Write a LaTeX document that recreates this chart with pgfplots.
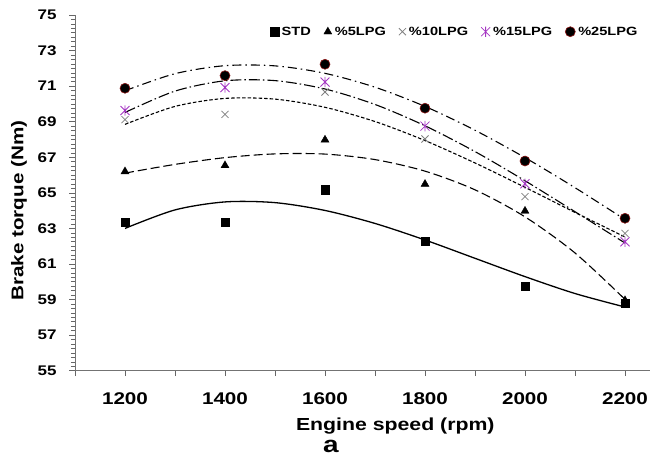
\documentclass[border=0pt]{standalone}
\usepackage{pgfplots}
\pgfplotsset{compat=1.18}
\usepackage{fontspec}
\setmainfont{Liberation Sans}[FakeStretch=1.22]
\definecolor{mypurple}{RGB}{165,55,195}
\definecolor{mydred}{RGB}{140,20,20}
\definecolor{mygray}{RGB}{128,128,128}
\pgfdeclareplotmark{xstar}{%
  \pgfpathmoveto{\pgfqpoint{-\pgfplotmarksize}{-\pgfplotmarksize}}%
  \pgfpathlineto{\pgfqpoint{\pgfplotmarksize}{\pgfplotmarksize}}%
  \pgfpathmoveto{\pgfqpoint{-\pgfplotmarksize}{\pgfplotmarksize}}%
  \pgfpathlineto{\pgfqpoint{\pgfplotmarksize}{-\pgfplotmarksize}}%
  \pgfpathmoveto{\pgfqpoint{0pt}{-1.15\pgfplotmarksize}}%
  \pgfpathlineto{\pgfqpoint{0pt}{1.15\pgfplotmarksize}}%
  \pgfusepathqstroke}
\begin{document}
\begin{tikzpicture}
\useasboundingbox (-75bp,-86.3bp) rectangle (575bp,370.7bp);
\begin{axis}[
  at={(0,0)}, anchor=south west,
  scale only axis, width=575bp, height=355.7bp,
  xmin=1100, xmax=2250, ymin=55, ymax=75,
  clip=false,
  axis x line=bottom, axis y line=left,
  axis line style={-, black!55, line width=0.8bp},
  xtick={1100,1200,...,2200},
  xticklabels={{},1200,{},1400,{},1600,{},1800,{},2000,{},2200},
  ytick={55,57,...,75}, minor y tick num=7,
  tick align=outside, major tick length=5.5bp, minor tick length=4bp,
  tick style={black!60, line width=0.6bp},
  /pgf/number format/assume math mode=true,
  /pgf/number format/1000 sep={},
  xticklabel style={font=\bfseries\fontsize{17}{17}\selectfont, anchor=base, yshift=-28bp},
  yticklabel style={font=\bfseries\fontsize{14}{14}\selectfont, anchor=east, inner sep=0pt, xshift=-12.8bp},
  xlabel={Engine speed (rpm)},
  xlabel style={font=\bfseries\fontsize{17.5}{17.5}\selectfont, at={(axis description cs:0.557,-0.1695)}, anchor=base},
  ylabel={Brake torque (Nm)},
  ylabel style={font=\bfseries\fontsize{17}{17}\selectfont, at={(axis description cs:-0.0974,0.45)}, rotate=0, anchor=center},
  legend columns=5,
  legend style={draw=none, fill=none, at={(axis description cs:0.982,0.953)}, anchor=east,
    font=\bfseries\fontsize{12}{12}\selectfont, inner sep=0pt,
    /tikz/every even column/.append style={column sep=11bp},
    /tikz/every odd column/.append style={column sep=1bp}},
  legend image code/.code={\draw[#1] plot coordinates {(0bp,0bp)};},
]
% trend curves
\addplot[black, line width=1.3bp, smooth, forget plot] coordinates {
(1200,63.00)(1300,64.04)(1400,64.49)(1500,64.45)(1600,64.01)(1700,63.28)(1800,62.35)(1900,61.32)(2000,60.29)(2100,59.34)(2200,58.58)};
\addplot[black, line width=1.1bp, smooth, dash pattern=on 9bp off 4bp, forget plot] coordinates {
(1200,66.11)(1300,66.60)(1400,66.98)(1500,67.19)(1600,67.18)(1700,66.87)(1800,66.22)(1900,65.17)(2000,63.65)(2100,61.62)(2200,59.01)};
\addplot[black, line width=1.1bp, smooth, dash pattern=on 3.5bp off 2bp, forget plot] coordinates {
(1200,68.85)(1300,69.86)(1400,70.31)(1500,70.27)(1600,69.81)(1700,69.01)(1800,67.94)(1900,66.68)(2000,65.31)(2100,63.90)(2200,62.52)};
\addplot[black, line width=1.1bp, smooth, dash pattern=on 11bp off 3bp on 1.5bp off 3bp, forget plot] coordinates {
(1200,69.52)(1300,70.72)(1400,71.30)(1500,71.31)(1600,70.84)(1700,69.97)(1800,68.77)(1900,67.32)(2000,65.68)(2100,63.94)(2200,62.18)};
\addplot[black, line width=1.1bp, smooth, dash pattern=on 9bp off 4bp on 1.5bp off 4bp, forget plot] coordinates {
(1200,70.74)(1300,71.70)(1400,72.15)(1500,72.14)(1600,71.72)(1700,70.94)(1800,69.86)(1900,68.52)(2000,66.98)(2100,65.29)(2200,63.50)};
% data markers
\addplot[only marks, mark=square*, mark size=4.3bp, black] coordinates {
(1200,63.34)(1400,63.34)(1600,65.19)(1800,62.29)(2000,59.76)(2200,58.80)};
\addlegendentry{STD}
\addplot[only marks, mark=triangle*, mark size=4.6bp, black] coordinates {
(1200,66.20)(1400,66.54)(1600,67.98)(1800,65.49)(2000,63.98)(2200,58.95)};
\addlegendentry{\%5LPG}
\addplot[only marks, mark=x, mark size=5bp, mygray, line width=0.8bp] coordinates {
(1200,69.12)(1400,69.41)(1600,70.67)(1800,68.03)(2000,64.79)(2200,62.72)};
\addlegendentry{\%10LPG}
\addplot[only marks, mark=xstar, mark size=4.5bp, mypurple, line width=0.8bp] coordinates {
(1200,69.63)(1400,70.92)(1600,71.23)(1800,68.75)(2000,65.51)(2200,62.25)};
\addlegendentry{\%15LPG}
\addplot[only marks, mark=*, mark size=5bp, draw=mydred, fill=black, line width=0.6bp] coordinates {
(1200,70.88)(1400,71.59)(1600,72.23)(1800,69.76)(2000,66.79)(2200,63.57)};
\addlegendentry{\%25LPG}
\node[font=\bfseries\fontsize{23}{23}\selectfont, anchor=base] at (axis description cs:0.445,-0.2305) {a};
\end{axis}
\end{tikzpicture}
\end{document}
